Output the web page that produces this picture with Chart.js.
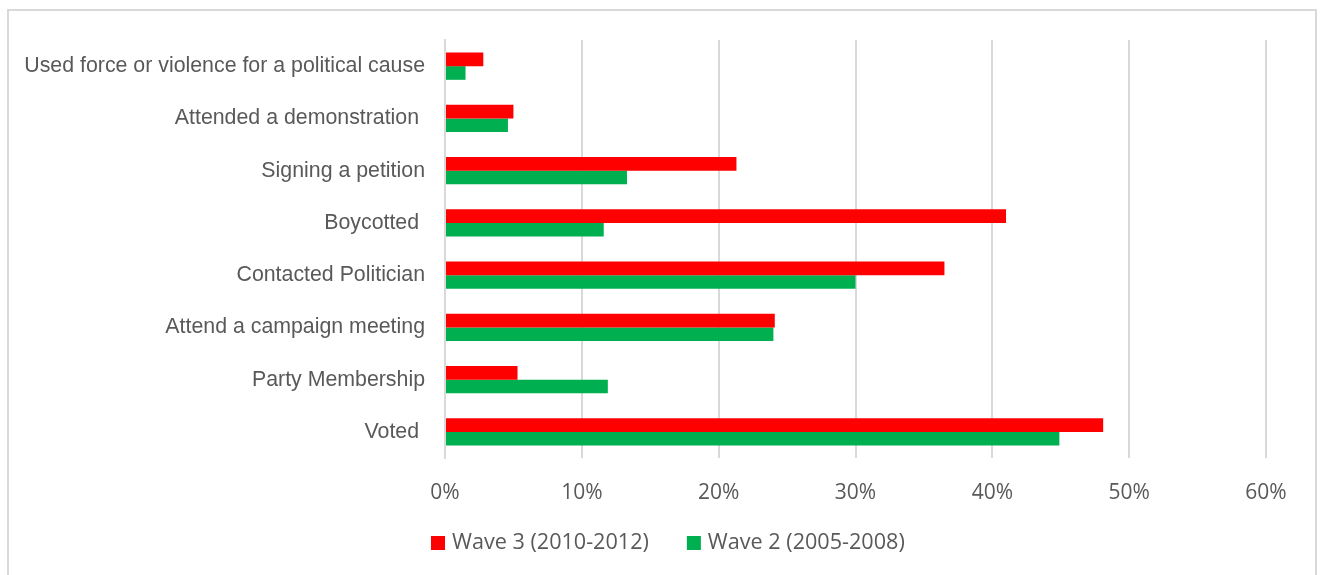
<!DOCTYPE html>
<html>
<head>
<meta charset="utf-8">
<script src="https://cdn.jsdelivr.net/npm/chart.js@4/dist/chart.umd.min.js"></script>
<style>
  html, body { margin: 0; padding: 0; background: #ffffff; }
  #wrap { width: 1320px; height: 575px; position: relative; }
</style>
</head>
<body>
<div id="wrap"><canvas id="c" width="1320" height="575"></canvas></div>
<script>
const categories = [
  'Used force or violence for a political cause',
  'Attended a demonstration ',
  'Signing a petition',
  'Boycotted ',
  'Contacted Politician',
  'Attend a campaign meeting',
  'Party Membership',
  'Voted '
];
const seriesNames = ['Wave 3 (2010-2012)', 'Wave 2 (2005-2008)'];
const wave3 = [2.8, 5.0, 21.3, 41.0, 36.5, 24.1, 5.3, 48.1];
const wave2 = [1.5, 4.6, 13.3, 11.6, 30.0, 24.0, 11.9, 44.9];
const xTickLabels = ['0%', '10%', '20%', '30%', '40%', '50%', '60%'];

const RED = '#ff0000';
const GREEN = '#00b050';
const TEXT = '#595959';
const GRID = '#d9d9d9';

const frame = {
  id: 'frame',
  beforeDraw(chart) {
    const ctx = chart.ctx;
    ctx.save();
    ctx.strokeStyle = GRID;
    ctx.lineWidth = 2;
    ctx.strokeRect(8, 10, 1308, 700);
    ctx.restore();
  }
};

const bottomLegend = {
  id: 'bottomLegend',
  afterDraw(chart) {
    const ctx = chart.ctx;
    ctx.save();
    ctx.font = '21.6px "Open Sans", sans-serif';
    ctx.textBaseline = 'middle';
    ctx.textAlign = 'left';
    let x = 431;
    const yc = 543;
    chart.data.datasets.forEach(ds => {
      ctx.fillStyle = ds.backgroundColor;
      ctx.fillRect(x, yc - 7, 14, 14);
      x += 14 + 7;
      ctx.fillStyle = TEXT;
      ctx.fillText(ds.label, x, yc);
      x += ctx.measureText(ds.label).width + 38;
    });
    ctx.restore();
  }
};

new Chart(document.getElementById('c'), {
  type: 'bar',
  data: {
    labels: categories,
    datasets: [
      { label: seriesNames[0], data: wave3, backgroundColor: RED, borderWidth: 0 },
      { label: seriesNames[1], data: wave2, backgroundColor: GREEN, borderWidth: 0 }
    ]
  },
  options: {
    indexAxis: 'y',
    responsive: false,
    animation: false,
    layout: { padding: { left: 0, right: 54, top: 40, bottom: 0 } },
    datasets: { bar: { categoryPercentage: 0.524, barPercentage: 1.0 } },
    plugins: {
      legend: { display: false },
      tooltip: { enabled: false },
      title: { display: false }
    },
    scales: {
      x: {
        min: 0, max: 60,
        ticks: {
          stepSize: 10,
          color: TEXT,
          font: { family: '"Open Sans", sans-serif', size: 21 },
          padding: 22,
          callback: (v, i) => xTickLabels[i]
        },
        grid: { color: GRID, lineWidth: 2, drawTicks: false, tickLength: 0 },
        border: { display: false },
        afterFit(scale) { scale.height = 117; }
      },
      y: {
        ticks: {
          color: TEXT,
          font: { family: '"Liberation Sans", Arial, sans-serif', size: 21.33 },
          padding: 20
        },
        grid: { display: false, drawTicks: false },
        border: { display: true, color: GRID, width: 2 },
        afterFit(scale) { scale.width = 445; }
      }
    }
  },
  plugins: [frame, bottomLegend]
});
</script>
</body>
</html>
